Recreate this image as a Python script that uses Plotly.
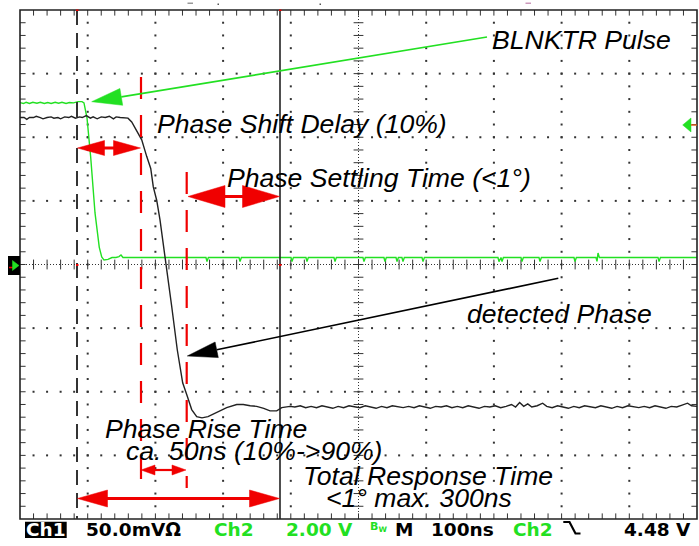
import plotly.graph_objects as go

# ---------------- data (time in ns, level in screen divisions) ----------------
black_t = [0, 6, 10, 14, 20, 24, 30, 34, 40, 46, 50, 56, 60, 66, 72, 76, 82, 88, 92, 98,
           104, 108, 114, 120, 126, 132, 138, 142, 148, 155,
           159.5, 165, 172.4, 179.8, 187.1, 193.1, 196.9, 201.9, 206.8, 211.7, 216.7, 224.1,
           232.3, 240.3, 247.1, 253.6, 261.0, 268.8, 277.7, 290.5, 305.3, 320.1, 329.8, 340,
           349.6, 360, 369.3, 379.2, 386.6, 398.8,
           406, 414, 422, 430, 438, 446, 454, 462, 470, 478, 486, 494, 502, 510, 518, 526,
           534, 542, 550, 558, 566, 574, 582, 590, 598, 606, 614, 622, 630, 638, 646, 654,
           662, 670, 678, 686, 694, 702, 710, 718, 726, 732, 738, 744, 750, 756, 764, 772,
           778, 786, 794, 802, 810, 818, 826, 834, 842, 850, 858, 866, 874, 882, 890, 898,
           906, 914, 922, 930, 938, 946, 954, 962, 970, 978, 986, 992, 1000]
black_v = [2.31, 2.31, 2.28, 2.31, 2.31, 2.33, 2.31, 2.29, 2.31, 2.32, 2.30, 2.31, 2.29, 2.32,
           2.31, 2.33, 2.30, 2.32, 2.31, 2.34, 2.30, 2.32, 2.29, 2.32, 2.31, 2.33, 2.29, 2.32,
           2.31, 2.31,
           2.30, 2.24, 2.11, 1.96, 1.70, 1.51, 1.22, 1.01, 0.70, 0.33, -0.03, -0.66,
           -1.34, -1.86, -2.07, -2.28, -2.39, -2.41, -2.39, -2.33, -2.25, -2.20, -2.20, -2.22,
           -2.23, -2.26, -2.30, -2.30, -2.25, -2.23,
           -2.24, -2.22, -2.25, -2.23, -2.25, -2.22, -2.24, -2.26, -2.23, -2.25, -2.22, -2.24,
           -2.25, -2.22, -2.24, -2.26, -2.23, -2.25, -2.22, -2.24, -2.25, -2.23, -2.25, -2.22,
           -2.24, -2.26, -2.23, -2.24, -2.22, -2.25, -2.23, -2.25, -2.22, -2.24, -2.26, -2.23,
           -2.24, -2.22, -2.25, -2.23, -2.20, -2.24, -2.17, -2.23, -2.19, -2.24, -2.22, -2.18,
           -2.23, -2.25, -2.22, -2.24, -2.26, -2.23, -2.25, -2.22, -2.24, -2.25, -2.22, -2.24,
           -2.26, -2.23, -2.25, -2.22, -2.24, -2.25, -2.23, -2.25, -2.22, -2.24, -2.26, -2.23,
           -2.24, -2.21, -2.18, -2.22, -2.23]

green_t = [0, 5, 9, 14, 19, 25, 30, 36, 41, 46, 52, 57, 62, 68, 73, 79, 85.7, 91.6, 94.5,
           99.0, 104.4, 110.8, 117.1, 120.7, 124.1, 130, 135.9, 141.8, 146.2, 149.2, 152.1,
           274.7, 276.2, 278.2, 323.5, 325.0, 327.0, 400.3, 401.8, 403.8, 422.4, 423.9, 425.9,
           463.8, 465.3, 467.3, 506.6, 508.1, 510.1, 537.6, 539.1, 541.1, 555.4, 556.9, 558.9,
           564.2, 565.7, 567.7, 593.8, 595.3, 597.3, 706.0, 707.5, 709.5, 710.5, 712.0, 714.0,
           740.0, 741.5, 743.5, 766.6, 768.1, 770.1, 818.3, 819.8, 821.8,
           850.8, 852.3, 853.8, 855.8, 942.4, 943.9, 945.9, 1000]
green_v = [2.545, 2.53, 2.55, 2.53, 2.55, 2.535, 2.55, 2.53, 2.545, 2.53, 2.55, 2.535, 2.55,
           2.53, 2.545, 2.54, 2.56, 2.56, 2.54,
           2.30, 1.69, 0.81, 0.27, 0.12, 0.07, 0.08, 0.11, 0.11, 0.125, 0.15, 0.11,
           0.11, 0.045, 0.11, 0.11, 0.045, 0.11, 0.11, 0.045, 0.11, 0.11, 0.045, 0.11,
           0.11, 0.045, 0.11, 0.11, 0.045, 0.11, 0.11, 0.045, 0.11, 0.11, 0.045, 0.11,
           0.11, 0.045, 0.11, 0.11, 0.045, 0.11, 0.11, 0.045, 0.11, 0.11, 0.045, 0.11,
           0.11, 0.045, 0.11, 0.11, 0.045, 0.11, 0.11, 0.045, 0.11,
           0.11, 0.05, 0.18, 0.11, 0.11, 0.045, 0.11, 0.11]

label_texts = ["BLNKTR Pulse", "Phase Shift Delay (10%)", "Phase Settling Time (<1°)",
               "detected Phase", "Phase Rise Time", "ca. 50ns (10%->90%)",
               "Total Response Time", "<1° max. 300ns"]
status_texts = ["Ch1", "50.0mVΩ", "Ch2", "2.00 V", "B<sub>W</sub>", "M", "100ns", "Ch2", "4.48 V"]

# ---------------- geometry helpers (screen pixels -> paper) ----------------
L, R, T, B = 20, 697, 10, 519


def PX(x):
    return (x - L) / (R - L)


def PY(y):
    return (B - y) / (B - T)


RED = "#f00000"
GREEN = "#22e022"
INK = "#222222"

fig = go.Figure()

# ---------------- graticule ----------------
gx, gy = [], []
for i in [1, 2, 3, 4, 6, 7, 8, 9]:
    for j in range(-19, 20):
        gx.append(i * 100)
        gy.append(j * 0.2)
for k in [-3, -2, -1, 1, 2, 3]:
    for m in range(1, 50):
        gx.append(m * 20)
        gy.append(k)
fig.add_trace(go.Scatter(x=gx, y=gy, mode="markers", hoverinfo="skip",
                         marker=dict(symbol="square", size=2, color="#333333", line=dict(width=0))))

tick_h = [m * 20 for m in range(1, 50)]
tick_v = [j * 0.2 for j in range(-19, 20)]
# center-line ticks
fig.add_trace(go.Scatter(x=tick_h, y=[0] * len(tick_h), mode="markers", hoverinfo="skip",
                         marker=dict(symbol="line-ns", size=7, line=dict(width=1, color="#333"))))
fig.add_trace(go.Scatter(x=[500] * len(tick_v), y=tick_v, mode="markers", hoverinfo="skip",
                         marker=dict(symbol="line-ew", size=7, line=dict(width=1, color="#333"))))
# edge ticks
fig.add_trace(go.Scatter(x=tick_h + tick_h, y=[4] * len(tick_h) + [-4] * len(tick_h),
                         mode="markers", hoverinfo="skip",
                         marker=dict(symbol="line-ns", size=8, line=dict(width=1, color="#333"))))
fig.add_trace(go.Scatter(x=[0] * len(tick_v) + [1000] * len(tick_v), y=tick_v + tick_v,
                         mode="markers", hoverinfo="skip",
                         marker=dict(symbol="line-ew", size=8, line=dict(width=1, color="#333"))))

# ---------------- signal traces ----------------
fig.add_trace(go.Scatter(x=green_t, y=green_v, mode="lines", hoverinfo="skip",
                         line=dict(color=GREEN, width=1.4)))
fig.add_trace(go.Scatter(x=black_t, y=black_v, mode="lines", hoverinfo="skip",
                         line=dict(color=INK, width=1.4)))

shapes = []


def pline(x0, y0, x1, y1, color, width, dash=None):
    d = dict(type="line", xref="paper", yref="paper", x0=PX(x0), y0=PY(y0), x1=PX(x1), y1=PY(y1),
             line=dict(color=color, width=width))
    if dash:
        d["line"]["dash"] = dash
    shapes.append(d)


def ppoly(pts, color):
    path = "M " + " L ".join(f"{PX(x):.5f},{PY(y):.5f}" for x, y in pts) + " Z"
    shapes.append(dict(type="path", xref="paper", yref="paper", path=path,
                       fillcolor=color, line=dict(color=color, width=0.5)))


def prect(x0, y0, x1, y1, color):
    shapes.append(dict(type="rect", xref="paper", yref="paper", x0=PX(x0), y0=PY(y0),
                       x1=PX(x1), y1=PY(y1), fillcolor=color, line=dict(width=0)))


# center dotted lines
pline(L, 264.5, R, 264.5, "#333", 1, "1px,2px")
pline(358.5, T, 358.5, B, "#333", 1, "1px,2px")
# frame
shapes.append(dict(type="rect", xref="paper", yref="paper", x0=0, y0=0, x1=1, y1=1,
                   line=dict(color=INK, width=1.6)))

# cursors
pline(77, T, 77, B, "#333", 2, "15px,8px")
pline(280, T, 280, B, INK, 1.6)

# red dashed markers
pline(141, 77, 141, 488, RED, 2.2, "22px,16px")
pline(186.7, 172, 186.7, 488, RED, 2.2, "22px,16px")


def double_arrow(x1, x2, y, hl, hh, sw):
    pline(x1 + hl - 2, y, x2 - hl + 2, y, RED, sw)
    ppoly([(x1, y), (x1 + hl, y - hh), (x1 + hl, y + hh)], RED)
    ppoly([(x2, y), (x2 - hl, y - hh), (x2 - hl, y + hh)], RED)


double_arrow(77.5, 140.5, 148, 27, 7.5, 3)
double_arrow(188, 279.5, 196.5, 37, 11, 3)
double_arrow(141, 186, 470, 14, 5, 2.2)
double_arrow(77.5, 279.5, 498.5, 30, 8.5, 3)

# green pointer
pline(487, 37, 121.3, 96.9, GREEN, 1.6)
ppoly([(91.7, 101.7), (122.7, 105.3), (119.9, 88.5)], GREEN)
# black pointer
pline(558.3, 278.3, 216.7, 349.8, "black", 1.6)
ppoly([(187.3, 356), (218.3, 357.6), (215.1, 342)], "black")

# small screen markers
prect(8, 256, 20, 275, "black")
pline(9, 267.5, 15, 267.5, RED, 1.5)
ppoly([(19, 265.5), (12.5, 260.5), (12.5, 270.5)], GREEN)
ppoly([(682.7, 125), (691, 118), (691, 132)], GREEN)
pline(691, 125, 697, 125, "#e06020", 1.5)
prect(187.5, 2.5, 193, 4, "#999999")
prect(525.5, 2.5, 531, 4, "#cc99bb")
prect(217.5, 3.5, 219, 5, "#555555")
prect(319.5, 3.5, 321, 5, "#555555")
prect(76, 264, 78.5, 266, RED)
prect(279, 264, 281.5, 266, RED)
prect(76, 9.5, 78.5, 11, RED)
prect(279, 9.5, 281.5, 11, RED)

# status bar
prect(25, 521.7, 66.7, 538, "black")
shapes.append(dict(type="path", xref="paper", yref="paper",
                   path=f"M {PX(563.3)},{PY(522)} L {PX(569.5)},{PY(522)} L {PX(575.5)},{PY(533.5)} L {PX(580.5)},{PY(533.5)}",
                   line=dict(color="black", width=2.2)))

annotations = []
label_font = dict(family="Liberation Sans, Arial, sans-serif", size=26.6, color="black", style="italic")
label_pos = [(490, 39.8), (155, 123.8), (225, 177.8), (465, 313.8), (103, 428.8),
             (124, 450.8), (301, 475.8), (323.5, 497.5)]
for txt, (x, y) in zip(label_texts, label_pos):
    annotations.append(dict(text=txt, xref="paper", yref="paper", x=PX(x), y=PY(y),
                            xanchor="left", yanchor="middle", showarrow=False, font=label_font))

status_colors = ["white", "black", GREEN, GREEN, GREEN, "black", "black", GREEN, "black"]
status_centers = [45.8, 133, 234, 319, 378.5, 404, 462.5, 533, 657]
for txt, col, cx in zip(status_texts, status_colors, status_centers):
    sz = 11 if "sub" in txt else 18.5
    annotations.append(dict(text=txt, xref="paper", yref="paper", x=PX(cx),
                            y=PY(529.6 if sz > 12 else 527), xanchor="center", yanchor="middle",
                            showarrow=False,
                            font=dict(family="DejaVu Sans, sans-serif", size=sz, color=col,
                                      weight="bold")))

fig.update_layout(
    width=699, height=546,
    margin=dict(l=L, r=699 - R, t=T, b=546 - B),
    paper_bgcolor="white", plot_bgcolor="white",
    showlegend=False,
    xaxis=dict(range=[0, 1000], visible=False, fixedrange=True),
    yaxis=dict(range=[-4, 4], visible=False, fixedrange=True),
    shapes=shapes, annotations=annotations,
)

fig.write_html("out.html", config={"displayModeBar": False, "staticPlot": True},
               post_script="document.body.style.margin='0px';document.body.style.overflow='hidden';")
